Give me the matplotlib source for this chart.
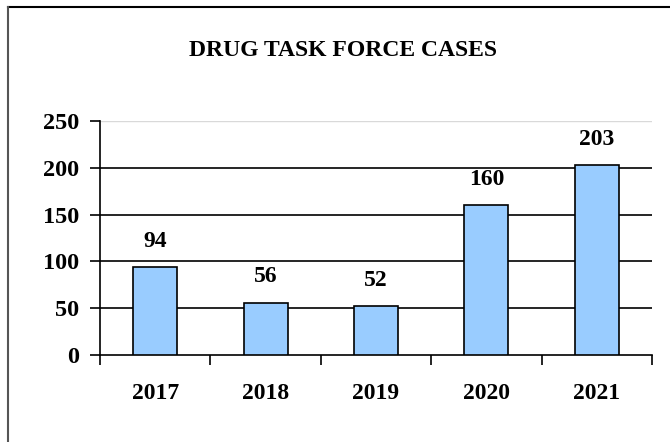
import matplotlib
matplotlib.use("Agg")
import matplotlib.pyplot as plt
from matplotlib.lines import Line2D

years = ["2017", "2018", "2019", "2020", "2021"]
cases = [94, 56, 52, 160, 203]
yticks = [0, 50, 100, 150, 200, 250]
title = "DRUG TASK FORCE CASES"

plt.rcParams['font.family'] = ['Liberation Serif', 'DejaVu Serif']

W, H = 670, 442
fig = plt.figure(figsize=(W/100, H/100), dpi=100)
ax = fig.add_axes([100/W, 1-355/H, 552/W, 234/H])

x = list(range(len(years)))
ax.bar(x, cases, width=0.4, color="#99CCFF", edgecolor="black", linewidth=1.2, zorder=3)
for xi, v in zip(x, cases):
    ax.annotate(str(v), (xi, v), xytext=(0, 11), textcoords="offset points",
                ha="center", va="bottom", fontsize=17, fontweight="bold")

ax.set_xlim(-0.5, len(years)-0.5)
ax.set_ylim(0, 250)
ax.set_yticks(yticks)
ax.set_yticklabels([str(t) for t in yticks], fontsize=17.5, fontweight="bold")
for t in yticks[1:-1]:
    ax.axhline(t, color="black", linewidth=1.2, zorder=1)
ax.axhline(250, color="#d9d9d9", linewidth=1.0, zorder=1)

ax.set_xticks([i - 0.5 for i in range(len(years)+1)], minor=False)
ax.set_xticklabels([""]*(len(years)+1))
ax.set_xticks(x, minor=True)
ax.set_xticklabels(years, minor=True, fontsize=17, fontweight="bold")
ax.tick_params(axis="x", which="major", direction="out", length=7, width=1.2)
ax.tick_params(axis="x", which="minor", length=0, pad=20)
ax.tick_params(axis="y", direction="out", length=7, width=1.2, pad=8)

for s in ["top", "right"]:
    ax.spines[s].set_visible(False)
ax.spines["left"].set_linewidth(1.2)
ax.spines["bottom"].set_linewidth(1.2)

fig.text(343/W, 1-50/H, title, ha="center", va="center", fontsize=17, fontweight="bold")

fig.add_artist(Line2D([8/W, 1.0], [1-7/H, 1-7/H], color="black", linewidth=1.5, transform=fig.transFigure))
fig.add_artist(Line2D([8/W, 8/W], [1-7/H, 0], color="#555555", linewidth=1.5, transform=fig.transFigure))

fig.savefig("out.png", dpi=100)
